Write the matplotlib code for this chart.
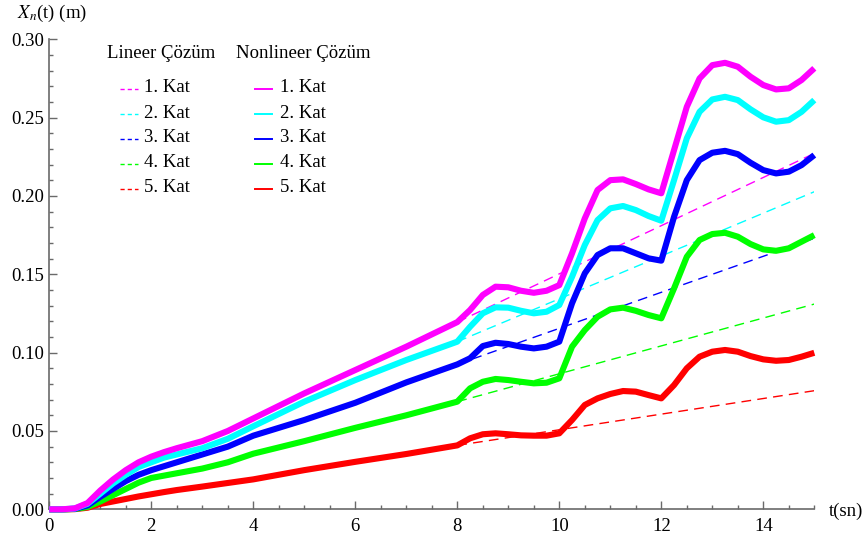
import matplotlib
matplotlib.use("Agg")
import matplotlib.pyplot as plt
from matplotlib.ticker import MultipleLocator, FormatStrFormatter
from matplotlib.lines import Line2D

plt.rcParams["font.family"] = ["Liberation Serif", "DejaVu Serif"]
plt.rcParams["mathtext.fontset"] = "stix"

# Time axis (s)
t = [0, 0.25, 0.5, 0.75, 1, 1.25, 1.5, 1.75, 2, 2.25, 2.5, 3, 3.5, 4, 5, 6,
     7, 8, 8.25, 8.5, 8.75, 9, 9.25, 9.5, 9.75, 10, 10.25, 10.5, 10.75, 11,
     11.25, 11.5, 11.75, 12, 12.25, 12.5, 12.75, 13, 13.25, 13.5, 13.75, 14,
     14.25, 14.5, 14.75, 15]

# Nonlinear solution, floor displacements (m)
kat1_nl = [0, 0, 0.0006, 0.004, 0.012, 0.019, 0.025, 0.030, 0.0336, 0.0365,
           0.039, 0.0435, 0.050, 0.058, 0.074, 0.0889, 0.1038, 0.1195,
           0.1272, 0.1368, 0.1421, 0.1417, 0.1395, 0.1382, 0.1395, 0.1431,
           0.1634, 0.1857, 0.2038, 0.2101, 0.2106, 0.2076, 0.2042, 0.2017,
           0.2293, 0.2569, 0.275, 0.2835, 0.285, 0.2825, 0.2761, 0.2708,
           0.268, 0.2687, 0.274, 0.2815]
kat2_nl = [0, 0, 0.0005, 0.0035, 0.010, 0.0165, 0.022, 0.027, 0.030, 0.033,
           0.035, 0.039, 0.045, 0.053, 0.0687, 0.0825, 0.0953, 0.107,
           0.1165, 0.1251, 0.1289, 0.1287, 0.1267, 0.1251, 0.1261, 0.1304,
           0.1484, 0.1687, 0.1846, 0.1921, 0.1936, 0.191, 0.1872, 0.1842,
           0.2101, 0.2368, 0.2537, 0.2616, 0.2633, 0.2612, 0.2553, 0.2502,
           0.2474, 0.2484, 0.2537, 0.2612]
kat3_nl = [0, 0, 0.0003, 0.0025, 0.008, 0.013, 0.018, 0.022, 0.025, 0.0275,
           0.030, 0.035, 0.040, 0.047, 0.057, 0.068, 0.081, 0.0925,
           0.0964, 0.1042, 0.1063, 0.1055, 0.1038, 0.1027, 0.1038, 0.107,
           0.1315, 0.1506, 0.1623, 0.1666, 0.1666, 0.1634, 0.1602, 0.1587,
           0.1867, 0.2101, 0.2229, 0.2276, 0.2288, 0.2267, 0.2212, 0.2165,
           0.2144, 0.2155, 0.2197, 0.2261]
kat4_nl = [0, 0, 0.0002, 0.0015, 0.005, 0.009, 0.013, 0.017, 0.020, 0.0215,
           0.023, 0.026, 0.030, 0.0355, 0.0435, 0.052, 0.060, 0.0687,
           0.0772, 0.0814, 0.0832, 0.0825, 0.0814, 0.0804, 0.0808, 0.0836,
           0.1038, 0.1144, 0.1229, 0.1276, 0.1287, 0.1267, 0.124, 0.1219,
           0.141, 0.1612, 0.1719, 0.1757, 0.1765, 0.174, 0.1693, 0.1659,
           0.165, 0.1666, 0.1708, 0.175]
kat5_nl = [0, 0, 0.0001, 0.001, 0.0034, 0.005, 0.0066, 0.0082, 0.0096, 0.011,
           0.0123, 0.0145, 0.0168, 0.0191, 0.025, 0.0303, 0.0353, 0.0408,
           0.0453, 0.0479, 0.0485, 0.0479, 0.0472, 0.047, 0.047, 0.0485,
           0.057, 0.0666, 0.0708, 0.0736, 0.0755, 0.0751, 0.0729, 0.0708,
           0.0793, 0.09, 0.0974, 0.1006, 0.1017, 0.1006, 0.0978, 0.0957,
           0.0948, 0.0953, 0.0974, 0.0999]

# Linear solution after t = 8 s (m)
t_lin = [8, 15]
kat1_lin = [0.1195, 0.2272]
kat2_lin = [0.107, 0.2027]
kat3_lin = [0.0925, 0.173]
kat4_lin = [0.0687, 0.131]
kat5_lin = [0.0408, 0.0757]

labels = ["1. Kat", "2. Kat", "3. Kat", "4. Kat", "5. Kat"]
colors = ["#ff00ff", "#00ffff", "#0000ff", "#00ff00", "#ff0000"]
nonlinear = [kat1_nl, kat2_nl, kat3_nl, kat4_nl, kat5_nl]
linear = [kat1_lin, kat2_lin, kat3_lin, kat4_lin, kat5_lin]

W, H = 868, 542
fig = plt.figure(figsize=(W / 100, H / 100), dpi=100)
x0, x1 = 49.3, 814.3
y0, y1 = 509.3, 39.3
ax = fig.add_axes([x0 / W, 1 - y0 / H, (x1 - x0) / W, (y0 - y1) / H])

for y, c in zip(linear, colors):
    ax.plot(t_lin, y, color=c, lw=1.0, dashes=(7, 4.5), zorder=2)
for y, c in reversed(list(zip(nonlinear, colors))):
    ax.plot(t, y, color=c, lw=4.4, solid_joinstyle="round",
            solid_capstyle="butt", clip_on=False, zorder=3)

ax.set_xlim(0, 15)
ax.set_ylim(0, 0.30)
for s in ("top", "right"):
    ax.spines[s].set_visible(False)
axis_col = "#6a6a6a"
for s in ("left", "bottom"):
    ax.spines[s].set_color(axis_col)
    ax.spines[s].set_linewidth(1.2)

ax.xaxis.set_major_locator(MultipleLocator(2))
ax.xaxis.set_minor_locator(MultipleLocator(0.5))
ax.yaxis.set_major_locator(MultipleLocator(0.05))
ax.yaxis.set_minor_locator(MultipleLocator(0.01))
ax.yaxis.set_major_formatter(FormatStrFormatter("%.2f"))
ax.tick_params(which="major", direction="in", length=5.5, width=1.0,
               color=axis_col, labelsize=13.5)
ax.tick_params(which="minor", direction="in", length=3, width=1.0,
               color=axis_col)
ax.tick_params(axis="x", which="major", pad=6)
ax.tick_params(axis="y", which="major", pad=4)


def fx(px):
    return px / W


def fy(py):
    return 1 - py / H


fig.text(fx(17), fy(13.5), r"$X_n$(t) (m)", fontsize=13.5, va="center",
         ha="left")
fig.text(fx(829), fy(511), "t(sn)", fontsize=13.5, va="center", ha="left")

# Legend: two columns, linear (dashed) and nonlinear (solid)
fig.text(fx(107), fy(54), "Lineer Çözüm", fontsize=13.5, va="center",
         ha="left")
fig.text(fx(236), fy(54), "Nonlineer Çözüm", fontsize=13.5, va="center",
         ha="left")
row_y = [88, 113, 137.5, 162.5, 187.5]
for ry, lab, c in zip(row_y, labels, colors):
    fig.add_artist(Line2D([fx(120), fx(138)], [fy(ry + 1), fy(ry + 1)],
                          color=c, lw=1.0, dashes=(3, 2.2)))
    fig.text(fx(143.5), fy(ry), lab, fontsize=13.5, va="center", ha="left")
    fig.add_artist(Line2D([fx(255), fx(272)], [fy(ry + 1), fy(ry + 1)],
                          color=c, lw=1.4))
    fig.text(fx(280), fy(ry), lab, fontsize=13.5, va="center", ha="left")

fig.savefig("out.png", dpi=100)
